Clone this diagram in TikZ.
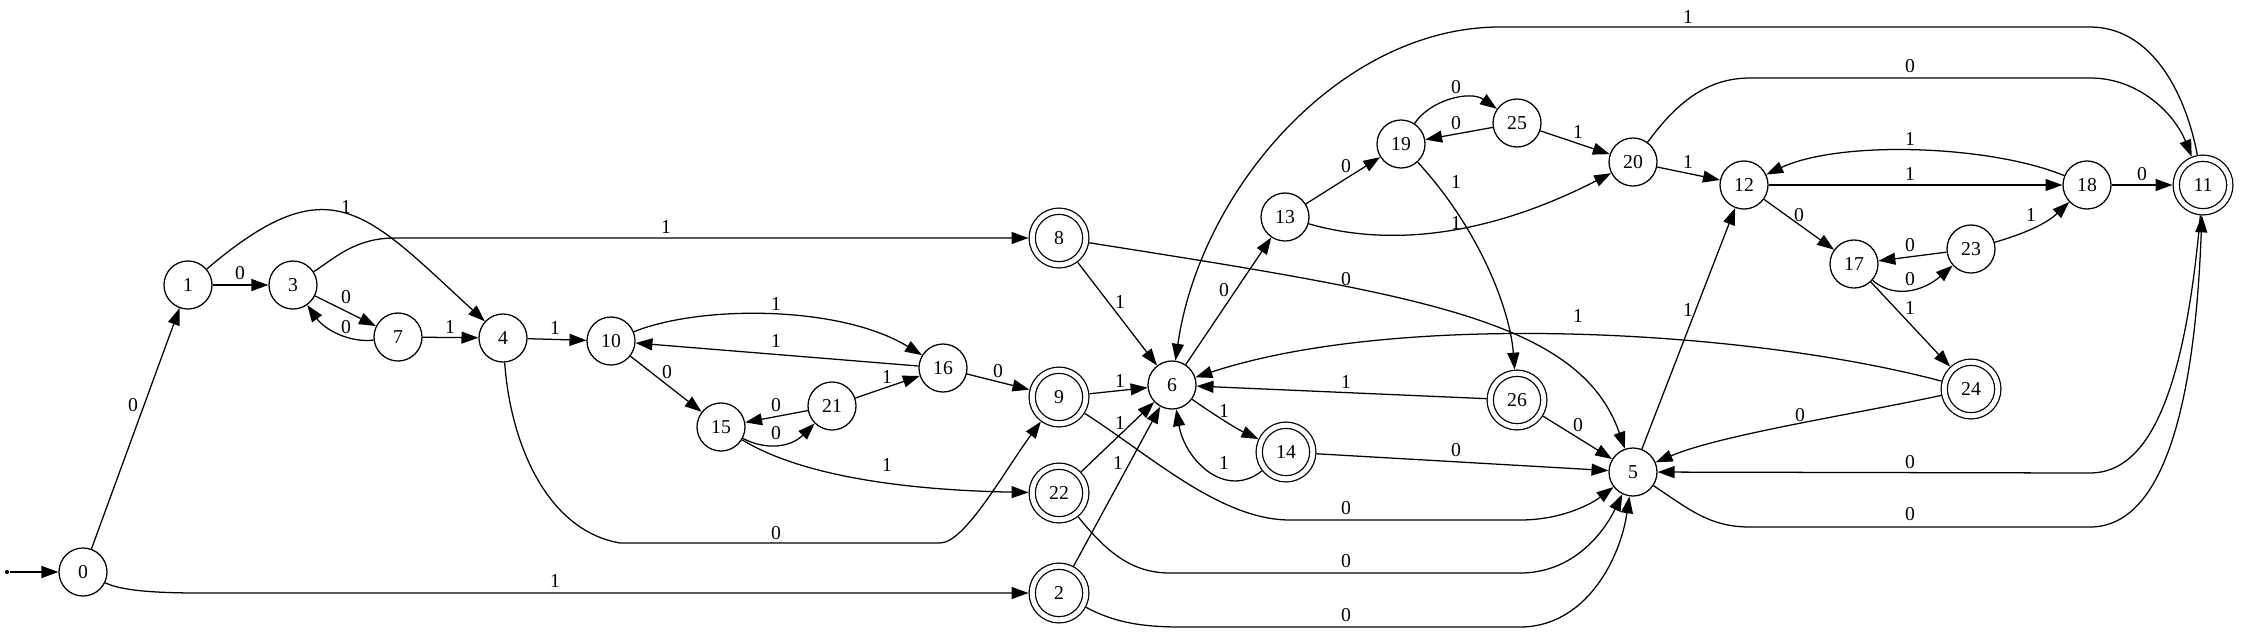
\documentclass[tikz,border=0pt]{standalone}
\usepackage{fontspec}
\setmainfont{Liberation Serif}
\usetikzlibrary{arrows.meta}
\newcommand{\pxUnit}{0.025cm}
\newcommand{\stateFont}{\fontsize{14}{16}\selectfont}

\begin{document}
\begin{tikzpicture}[x=\pxUnit, y=-\pxUnit, line width=0.9pt, >={Triangle[length=12pt,width=8.5pt]}]
  \tikzset{stateNode/.style={circle,draw,minimum size=1.2cm,inner sep=0pt,font=\stateFont},
    acceptNode/.style={stateNode,minimum size=1.34cm,double,double distance=3.5pt,outer sep=2.65pt},
    startDot/.style={circle,fill,inner sep=0pt,minimum size=3pt},
    trans/.style={->},
    lbl/.style={inner sep=0pt,font=\stateFont}}
  \useasboundingbox (0,0) rectangle (2241,634);

  \node[startDot] (start) at (7,572) {};
  \node[stateNode] (q0) at (83,572) {0};
  \node[stateNode] (q1) at (188,285) {1};
  \node[stateNode] (q3) at (293,285) {3};
  \node[stateNode] (q7) at (398,337) {7};
  \node[stateNode] (q4) at (503,338) {4};
  \node[stateNode] (q10) at (611,341) {10};
  \node[stateNode] (q15) at (721,427) {15};
  \node[stateNode] (q21) at (832,406) {21};
  \node[stateNode] (q16) at (943,368) {16};
  \node[acceptNode] (q8) at (1059,238) {8};
  \node[acceptNode] (q9) at (1059,397) {9};
  \node[acceptNode] (q22) at (1059,493) {22};
  \node[acceptNode] (q2) at (1059,593) {2};
  \node[stateNode] (q6) at (1172,385) {6};
  \node[acceptNode] (q14) at (1286,452) {14};
  \node[stateNode] (q13) at (1285,217) {13};
  \node[stateNode] (q19) at (1401,144) {19};
  \node[stateNode] (q25) at (1517,123) {25};
  \node[stateNode] (q20) at (1633,162) {20};
  \node[acceptNode] (q26) at (1517,400) {26};
  \node[stateNode] (q5) at (1633,472) {5};
  \node[stateNode] (q12) at (1744,185) {12};
  \node[stateNode] (q17) at (1854,264) {17};
  \node[stateNode] (q23) at (1971,249) {23};
  \node[stateNode] (q18) at (2087,185) {18};
  \node[acceptNode] (q11) at (2203,185) {11};
  \node[acceptNode] (q24) at (1971,389) {24};

  \draw[trans] (start) -- (q0);
  \draw[trans] (q0) -- (q1) node[lbl] at (133,405) {0};
  \draw[trans] (q0) .. controls (120,590) and (150,593) .. (200,593) -- (q2) node[lbl] at (555,581) {1};
  \draw[trans] (q1) -- (q3) node[lbl] at (240,273) {0};
  \draw[trans] (q1) .. controls (330,164) and (365,211) .. (q4) node[lbl] at (346,207) {1};
  \draw[trans] (q3) .. controls (335,258) and (355,238) .. (395,238) -- (q8) node[lbl] at (666,227) {1};
  \draw[trans] (q3) -- (q7) node[lbl] at (346,297) {0};
  \draw[trans] (q7) .. controls (350,343) and (325,330) .. (q3) node[lbl] at (346,327) {0};
  \draw[trans] (q7) -- (q4) node[lbl] at (450,327) {1};
  \draw[trans] (q4) -- (q10) node[lbl] at (555,328) {1};
  \draw[trans] (q4) .. controls (510,440) and (545,530) .. (620,543) -- (940,543)
    .. controls (965,543) and (1005,470) .. (q9) node[lbl] at (776,533) {0};
  \draw[trans] (q10) .. controls (700,305) and (840,305) .. (q16) node[lbl] at (776,304) {1};
  \draw[trans] (q16) -- (q10) node[lbl] at (776,341) {1};
  \draw[trans] (q10) -- (q15) node[lbl] at (667,372) {0};
  \draw[trans] (q21) -- (q15) node[lbl] at (776,405) {0};
  \draw[trans] (q15) .. controls (765,450) and (790,448) .. (q21) node[lbl] at (776,433) {0};
  \draw[trans] (q21) -- (q16) node[lbl] at (887,377) {1};
  \draw[trans] (q15) .. controls (800,475) and (900,490) .. (q22) node[lbl] at (887,465) {1};
  \draw[trans] (q16) -- (q9) node[lbl] at (998,371) {0};
  \draw[trans] (q8) -- (q6) node[lbl] at (1120,302) {1};
  \draw[trans] (q8) .. controls (1420,295) and (1580,320) .. (q5) node[lbl] at (1346,279) {0};
  \draw[trans] (q9) -- (q6) node[lbl] at (1120,381) {1};
  \draw[trans] (q9) .. controls (1150,455) and (1220,520) .. (1290,520) -- (1520,520)
    .. controls (1560,520) and (1590,505) .. (q5) node[lbl] at (1346,508) {0};
  \draw[trans] (q22) -- (q6) node[lbl] at (1120,423) {1};
  \draw[trans] (q22) .. controls (1105,550) and (1130,573) .. (1170,573) -- (1520,573)
    .. controls (1575,573) and (1605,530) .. (q5) node[lbl] at (1346,561) {0};
  \draw[trans] (q2) -- (q6) node[lbl] at (1118,463) {1};
  \draw[trans] (q2) .. controls (1110,620) and (1135,627) .. (1180,627) -- (1520,627)
    .. controls (1585,627) and (1620,560) .. (q5) node[lbl] at (1346,615) {0};
  \draw[trans] (q6) -- (q13) node[lbl] at (1224,290) {0};
  \draw[trans] (q6) .. controls (1210,412) and (1235,428) .. (q14) node[lbl] at (1224,411) {1};
  \draw[trans] (q14) .. controls (1225,500) and (1185,460) .. (q6) node[lbl] at (1224,463) {1};
  \draw[trans] (q13) -- (q19) node[lbl] at (1346,166) {0};
  \draw[trans] (q13) .. controls (1400,250) and (1500,230) .. (q20) node[lbl] at (1456,223) {1};
  \draw[trans] (q19) .. controls (1430,100) and (1470,90) .. (q25) node[lbl] at (1456,87) {0};
  \draw[trans] (q25) -- (q19) node[lbl] at (1456,123) {0};
  \draw[trans] (q19) .. controls (1480,230) and (1510,310) .. (q26) node[lbl] at (1456,182) {1};
  \draw[trans] (q25) -- (q20) node[lbl] at (1578,132) {1};
  \draw[trans] (q20) -- (q12) node[lbl] at (1688,162) {1};
  \draw[trans] (q20) .. controls (1675,105) and (1705,78) .. (1750,78) -- (2090,78)
    .. controls (2140,78) and (2175,115) .. (q11) node[lbl] at (1910,66) {0};
  \draw[trans] (q11) .. controls (2185,90) and (2150,27) .. (2090,27) -- (1500,27)
    .. controls (1340,27) and (1200,190) .. (q6) node[lbl] at (1688,17) {1};
  \draw[trans] (q12) -- (q18) node[lbl] at (1910,174) {1};
  \draw[trans] (q18) .. controls (1990,145) and (1840,140) .. (q12) node[lbl] at (1910,139) {1};
  \draw[trans] (q12) -- (q17) node[lbl] at (1799,215) {0};
  \draw[trans] (q17) .. controls (1895,300) and (1925,290) .. (q23) node[lbl] at (1910,279) {0};
  \draw[trans] (q23) -- (q17) node[lbl] at (1910,245) {0};
  \draw[trans] (q23) .. controls (2020,235) and (2045,225) .. (q18) node[lbl] at (2031,215) {1};
  \draw[trans] (q17) -- (q24) node[lbl] at (1910,308) {1};
  \draw[trans] (q18) -- (q11) node[lbl] at (2142,174) {0};
  \draw[trans] (q24) .. controls (1750,330) and (1400,310) .. (q6) node[lbl] at (1578,316) {1};
  \draw[trans] (q24) .. controls (1850,415) and (1720,435) .. (q5) node[lbl] at (1800,415) {0};
  \draw[trans] (q26) -- (q6) node[lbl] at (1346,382) {1};
  \draw[trans] (q26) -- (q5) node[lbl] at (1578,425) {0};
  \draw[trans] (q14) -- (q5) node[lbl] at (1456,450) {0};
  \draw[trans] (q5) -- (q12) node[lbl] at (1688,310) {1};
  \draw[trans] (q11) .. controls (2185,390) and (2150,473) .. (2090,473) -- (q5) node[lbl] at (1910,462) {0};
  \draw[trans] (q5) .. controls (1690,510) and (1710,527) .. (1750,527) -- (2090,527)
    .. controls (2165,527) and (2195,400) .. (q11) node[lbl] at (1910,514) {0};
\end{tikzpicture}
\end{document}
